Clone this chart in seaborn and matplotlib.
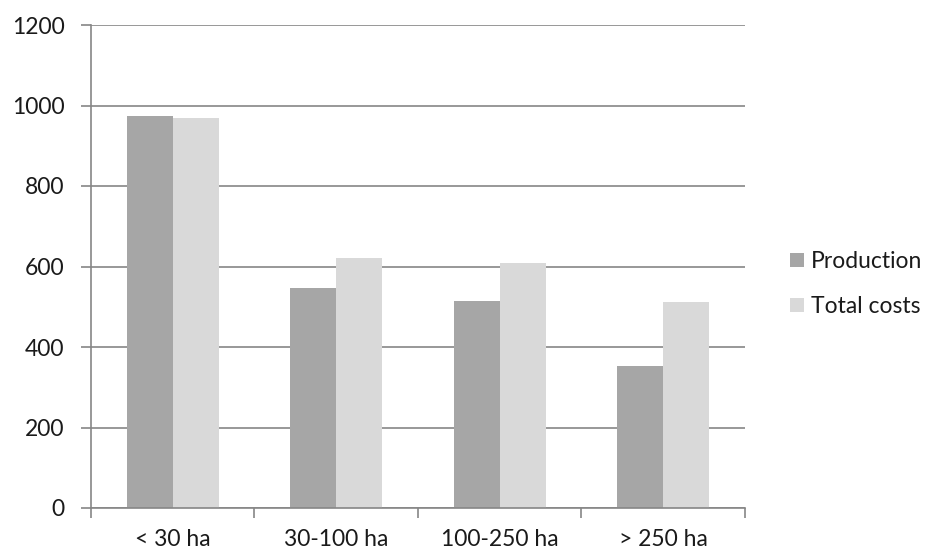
import matplotlib
matplotlib.use("Agg")
import matplotlib.pyplot as plt
from matplotlib.patches import Patch
import seaborn as sns
import pandas as pd
import numpy as np

categories = ["< 30 ha", "30-100 ha", "100-250 ha", "> 250 ha"]
production = [974, 547, 515, 353]
total_costs = [970, 620, 608, 512]
series_names = ["Production", "Total costs"]
colors = ["#A6A6A6", "#D9D9D9"]
y_ticks = [0, 200, 400, 600, 800, 1000, 1200]

df = pd.DataFrame({
    "size": categories * 2,
    "value": production + total_costs,
    "series": [series_names[0]] * len(categories) + [series_names[1]] * len(categories),
})

sns.set_theme(style="white")
plt.rcParams["font.family"] = ["Lato", "DejaVu Sans"]

fig = plt.figure(figsize=(9.29, 5.51), dpi=100)
ax = fig.add_axes([91 / 929, 1 - 508 / 551, (745 - 91) / 929, (508 - 25) / 551])

sns.barplot(data=df, x="size", y="value", hue="series", order=categories,
            hue_order=series_names, palette=colors, width=0.565,
            linewidth=0, saturation=1, ax=ax, legend=False)

grid_color = "#868686"
ax.set_ylim(0, 1200)
ax.set_xlim(-0.5, len(categories) - 0.5)
ax.set_yticks(y_ticks)
ax.set_yticklabels([str(v) for v in y_ticks])
ax.yaxis.grid(True, color=grid_color, linewidth=1.2)
ax.set_axisbelow(True)
ax.set_xlabel("")
ax.set_ylabel("")

for side in ["top", "right"]:
    ax.spines[side].set_visible(False)
for side in ["left", "bottom"]:
    ax.spines[side].set_color(grid_color)
    ax.spines[side].set_linewidth(1.2)

ax.tick_params(axis="y", which="major", length=7, width=1.2, color=grid_color,
               direction="out", pad=12, labelsize=16.5, labelcolor="#1a1a1a", left=True)
ax.tick_params(axis="x", which="major", length=0, pad=15, labelsize=16.5,
               labelcolor="#1a1a1a")
ax.set_xticks(np.arange(-0.5, len(categories)), minor=True)
ax.tick_params(axis="x", which="minor", length=7, width=1.2, color=grid_color,
               direction="out", bottom=True)

handles = [Patch(facecolor=c, edgecolor="none") for c in colors]
fig.legend(handles, series_names, loc="center left", bbox_to_anchor=(779 / 929, 1 - 284 / 551),
           frameon=False, fontsize=16.5, handlelength=0.6, handleheight=0.6,
           handletextpad=0.3, labelspacing=1.05, borderpad=0, labelcolor="#1a1a1a")

fig.savefig("out.png", dpi=100)
